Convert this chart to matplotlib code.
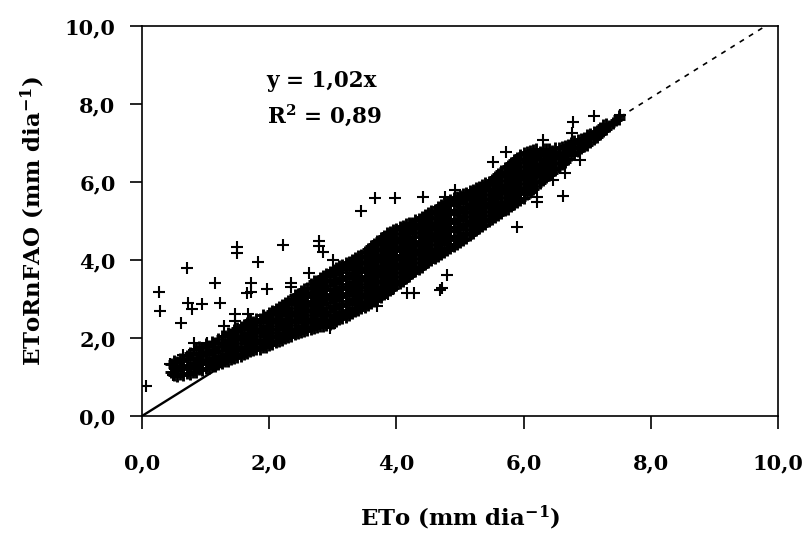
import matplotlib
matplotlib.use("Agg")
import matplotlib.pyplot as plt

# ---------------- data ----------------
# dense cloud, written as columns: (ETo, [ETo RnFAO values at that ETo])
band_low = [
    (0.45, [1.12, 1.33]), (0.50, [1.06, 1.25, 1.40]), (0.55, [1.02, 1.18, 1.38]),
    (0.60, [1.08, 1.28, 1.47]), (0.65, [1.04, 1.20, 1.42]), (0.70, [1.10, 1.32, 1.55]),
    (0.75, [1.08, 1.24, 1.46, 1.62]), (0.80, [1.14, 1.36, 1.58]),
    (0.85, [1.12, 1.28, 1.50, 1.72]), (0.90, [1.20, 1.40, 1.62, 1.78]),
    (0.95, [1.18, 1.34, 1.55, 1.75]), (1.00, [1.24, 1.45, 1.66, 1.84]),
    (1.05, [1.22, 1.38, 1.58, 1.80]), (1.10, [1.30, 1.50, 1.70, 1.90]),
    (1.15, [1.28, 1.44, 1.64, 1.86]), (1.20, [1.33, 1.54, 1.76, 1.98]),
    (1.25, [1.35, 1.48, 1.68, 1.90, 2.04]), (1.30, [1.40, 1.60, 1.82, 2.06]),
    (1.35, [1.42, 1.55, 1.74, 1.95, 2.12]), (1.40, [1.46, 1.66, 1.88, 2.10]),
    (1.45, [1.48, 1.60, 1.80, 2.02, 2.20]), (1.50, [1.52, 1.72, 1.94, 2.15, 2.25]),
    (1.55, [1.55, 1.66, 1.86, 2.08, 2.28]), (1.60, [1.60, 1.78, 2.00, 2.22, 2.34]),
    (1.65, [1.62, 1.72, 1.92, 2.14, 2.38]), (1.70, [1.66, 1.85, 2.06, 2.28, 2.45]),
    (1.75, [1.68, 1.78, 1.98, 2.20, 2.42]), (1.80, [1.71, 1.90, 2.12, 2.34, 2.50]),
    (1.85, [1.73, 1.84, 2.04, 2.26, 2.48]), (1.90, [1.76, 1.96, 2.18, 2.40, 2.58]),
    (1.95, [1.78, 1.90, 2.10, 2.32, 2.54]),
]
band_mid = [
    (2.00, [1.81, 2.02, 2.24, 2.46, 2.65]), (2.05, [1.84, 1.96, 2.16, 2.38, 2.60, 2.70]),
    (2.10, [1.89, 2.08, 2.30, 2.52, 2.74]), (2.15, [1.92, 2.02, 2.22, 2.44, 2.66, 2.80]),
    (2.20, [1.96, 2.14, 2.36, 2.58, 2.84]), (2.25, [1.99, 2.08, 2.28, 2.50, 2.72, 2.90]),
    (2.30, [2.03, 2.20, 2.42, 2.64, 2.86, 2.95]), (2.35, [2.06, 2.14, 2.34, 2.56, 2.78, 3.00]),
    (2.40, [2.10, 2.26, 2.48, 2.70, 2.92, 3.10]), (2.45, [2.12, 2.20, 2.40, 2.62, 2.84, 3.06, 3.14]),
    (2.50, [2.15, 2.32, 2.54, 2.76, 2.98, 3.20]), (2.55, [2.18, 2.26, 2.46, 2.68, 2.90, 3.12, 3.25]),
    (2.60, [2.20, 2.38, 2.60, 2.82, 3.04, 3.28]), (2.65, [2.22, 2.32, 2.52, 2.74, 2.96, 3.18, 3.38]),
    (2.70, [2.25, 2.44, 2.66, 2.88, 3.10, 3.32, 3.45]), (2.75, [2.28, 2.38, 2.58, 2.80, 3.02, 3.24, 3.46]),
    (2.80, [2.30, 2.50, 2.72, 2.94, 3.16, 3.38, 3.55]),
    (2.85, [2.32, 2.44, 2.64, 2.86, 3.08, 3.30, 3.52, 3.60]),
    (2.90, [2.34, 2.56, 2.78, 3.00, 3.22, 3.44, 3.65]),
    (2.95, [2.36, 2.48, 2.70, 2.92, 3.14, 3.36, 3.58, 3.70]),
    (3.00, [2.39, 2.60, 2.82, 3.04, 3.26, 3.48, 3.75]),
    (3.05, [2.43, 2.54, 2.76, 2.98, 3.20, 3.42, 3.64, 3.80]),
    (3.10, [2.48, 2.66, 2.88, 3.10, 3.32, 3.54, 3.76, 3.85]),
    (3.15, [2.51, 2.60, 2.82, 3.04, 3.26, 3.48, 3.70, 3.88]),
    (3.20, [2.55, 2.72, 2.94, 3.16, 3.38, 3.60, 3.82, 3.92]),
    (3.25, [2.59, 2.66, 2.88, 3.10, 3.32, 3.54, 3.76, 3.96]),
    (3.30, [2.63, 2.78, 3.00, 3.22, 3.44, 3.66, 3.88, 4.00]),
    (3.35, [2.68, 2.74, 2.94, 3.16, 3.38, 3.60, 3.82, 4.04]),
    (3.40, [2.72, 2.86, 3.08, 3.30, 3.52, 3.74, 3.96, 4.10]),
    (3.45, [2.76, 2.82, 3.02, 3.24, 3.46, 3.68, 3.90, 4.12]),
    (3.50, [2.80, 2.94, 3.16, 3.38, 3.60, 3.82, 4.04, 4.20]),
    (3.55, [2.85, 2.90, 3.10, 3.32, 3.54, 3.76, 3.98, 4.20, 4.28]),
    (3.60, [2.90, 3.02, 3.24, 3.46, 3.68, 3.90, 4.12, 4.35]),
    (3.65, [2.95, 3.00, 3.18, 3.40, 3.62, 3.84, 4.06, 4.28, 4.42]),
    (3.70, [3.00, 3.12, 3.34, 3.56, 3.78, 4.00, 4.22, 4.44, 4.50]),
    (3.75, [3.06, 3.10, 3.28, 3.50, 3.72, 3.94, 4.16, 4.38, 4.56]),
    (3.80, [3.12, 3.22, 3.44, 3.66, 3.88, 4.10, 4.32, 4.54, 4.62]),
    (3.85, [3.18, 3.38, 3.60, 3.82, 4.04, 4.26, 4.48, 4.68]),
    (3.90, [3.23, 3.32, 3.54, 3.76, 3.98, 4.20, 4.42, 4.64, 4.72]),
    (3.95, [3.29, 3.48, 3.70, 3.92, 4.14, 4.36, 4.58, 4.76]),
    (4.00, [3.35, 3.44, 3.66, 3.88, 4.10, 4.32, 4.54, 4.80]),
    (4.05, [3.41, 3.60, 3.82, 4.04, 4.26, 4.48, 4.70, 4.84]),
    (4.10, [3.47, 3.56, 3.78, 4.00, 4.22, 4.44, 4.66, 4.88]),
    (4.15, [3.54, 3.72, 3.94, 4.16, 4.38, 4.60, 4.82, 4.92]),
    (4.20, [3.60, 3.68, 3.90, 4.12, 4.34, 4.56, 4.78, 4.95]),
    (4.25, [3.66, 3.84, 4.06, 4.28, 4.50, 4.72, 4.96]),
    (4.30, [3.72, 3.80, 4.02, 4.24, 4.46, 4.68, 4.90, 5.02]),
    (4.35, [3.78, 3.96, 4.18, 4.40, 4.62, 4.84, 5.06]),
    (4.40, [3.83, 3.92, 4.14, 4.36, 4.58, 4.80, 5.02, 5.10]),
    (4.45, [3.89, 4.08, 4.30, 4.52, 4.74, 4.96, 5.15]),
    (4.50, [3.95, 4.04, 4.26, 4.48, 4.70, 4.92, 5.14, 5.20]),
    (4.55, [4.00, 4.20, 4.42, 4.64, 4.86, 5.08, 5.25]),
    (4.60, [4.05, 4.16, 4.38, 4.60, 4.82, 5.04, 5.28]),
    (4.65, [4.10, 4.32, 4.54, 4.76, 4.98, 5.20, 5.36]),
    (4.70, [4.15, 4.28, 4.50, 4.72, 4.94, 5.16, 5.40]),
    (4.75, [4.20, 4.44, 4.66, 4.88, 5.10, 5.32, 5.46]),
    (4.80, [4.25, 4.40, 4.62, 4.84, 5.06, 5.28, 5.50]),
    (4.85, [4.30, 4.56, 4.78, 5.00, 5.22, 5.44, 5.54]),
    (4.90, [4.35, 4.52, 4.74, 4.96, 5.18, 5.40, 5.58]),
    (4.95, [4.40, 4.62, 4.84, 5.06, 5.28, 5.50, 5.62]),
]
band_high = [
    (5.00, [4.45, 4.58, 4.80, 5.02, 5.24, 5.46, 5.65]),
    (5.05, [4.51, 4.70, 4.92, 5.14, 5.36, 5.58, 5.68]),
    (5.10, [4.57, 4.66, 4.88, 5.10, 5.32, 5.54, 5.72]),
    (5.15, [4.63, 4.80, 5.02, 5.24, 5.46, 5.68, 5.76]),
    (5.20, [4.70, 4.76, 4.98, 5.20, 5.42, 5.64, 5.80]),
    (5.25, [4.76, 4.92, 5.14, 5.36, 5.58, 5.84]),
    (5.30, [4.82, 4.88, 5.10, 5.32, 5.54, 5.76, 5.88]),
    (5.35, [4.87, 5.04, 5.26, 5.48, 5.70, 5.92]),
    (5.40, [4.93, 5.00, 5.22, 5.44, 5.66, 5.88, 5.97]),
    (5.45, [4.99, 5.16, 5.38, 5.60, 5.82, 6.01]),
    (5.50, [5.05, 5.12, 5.34, 5.56, 5.78, 6.04]),
    (5.55, [5.10, 5.28, 5.50, 5.72, 5.94, 6.12]),
    (5.60, [5.15, 5.24, 5.46, 5.68, 5.90, 6.12, 6.20]),
    (5.65, [5.21, 5.40, 5.62, 5.84, 6.06, 6.28]),
    (5.70, [5.27, 5.36, 5.58, 5.80, 6.02, 6.24, 6.35]),
    (5.75, [5.32, 5.52, 5.74, 5.96, 6.18, 6.42]),
    (5.80, [5.38, 5.48, 5.70, 5.92, 6.14, 6.36, 6.50]),
    (5.85, [5.44, 5.64, 5.86, 6.08, 6.30, 6.56]),
    (5.90, [5.50, 5.60, 5.82, 6.04, 6.26, 6.48, 6.62]),
    (5.95, [5.55, 5.76, 5.98, 6.20, 6.42, 6.68]),
    (6.00, [5.60, 5.72, 5.94, 6.16, 6.38, 6.60, 6.75]),
    (6.05, [5.68, 5.88, 6.10, 6.32, 6.54, 6.78]),
    (6.10, [5.75, 5.84, 6.06, 6.28, 6.50, 6.72, 6.80]),
    (6.15, [5.82, 6.00, 6.22, 6.44, 6.66, 6.83]),
    (6.20, [5.90, 6.18, 6.40, 6.62, 6.85]),
    (6.25, [5.97, 6.12, 6.34, 6.56, 6.78]),
    (6.30, [6.05, 6.28, 6.50, 6.72, 6.85]),
    (6.35, [6.12, 6.24, 6.46, 6.68, 6.84]),
    (6.40, [6.18, 6.40, 6.62, 6.85]),
    (6.45, [6.24, 6.36, 6.58, 6.80]),
    (6.50, [6.30, 6.52, 6.74, 6.86]),
    (6.55, [6.38, 6.48, 6.70, 6.88]),
    (6.60, [6.45, 6.64, 6.90]), (6.65, [6.52, 6.72, 6.92]), (6.70, [6.60, 6.80, 6.95]),
    (6.75, [6.68, 6.86, 7.00]), (6.80, [6.75, 6.92, 7.05]), (6.85, [6.80, 7.08]),
    (6.90, [6.86, 7.00, 7.10]), (6.95, [6.92, 7.14]), (7.00, [6.96, 7.12, 7.20]),
    (7.05, [7.02, 7.22]), (7.10, [7.10, 7.28]), (7.15, [7.15, 7.32]), (7.20, [7.22, 7.38]),
    (7.25, [7.30, 7.45]), (7.30, [7.36, 7.50]), (7.35, [7.44]), (7.40, [7.52]),
    (7.45, [7.58]), (7.50, [7.62, 7.68]),
]
# scattered points outside the dense cloud: (ETo, ETo RnFAO)
outliers = [
    (0.06, 0.78), (0.27, 3.19), (0.29, 2.69), (0.70, 3.79), (0.62, 2.39), (0.73, 2.91),
    (0.78, 2.74), (0.94, 2.88), (1.15, 3.42), (1.23, 2.91), (1.49, 4.34), (1.49, 4.19),
    (1.83, 3.94), (1.65, 3.15), (1.71, 3.42), (1.72, 3.17), (1.96, 3.25), (2.22, 4.38),
    (2.78, 4.50), (2.78, 4.36), (2.84, 4.21), (2.35, 3.42), (2.35, 3.30), (1.46, 2.61),
    (1.46, 2.44), (1.66, 2.61), (1.29, 2.31), (0.44, 1.33), (0.49, 1.05), (0.81, 1.86),
    (0.81, 1.69), (1.02, 1.86), (0.65, 1.56), (2.62, 3.66), (3.01, 4.00), (2.96, 2.25),
    (3.44, 5.26), (3.66, 5.58), (3.98, 5.58), (4.42, 5.62), (4.76, 5.62), (4.92, 5.79),
    (3.69, 2.82), (3.87, 3.12), (4.17, 3.15), (4.27, 3.15), (4.79, 3.62), (4.71, 3.29),
    (4.69, 3.23), (5.52, 6.52), (5.73, 6.78), (5.89, 4.85), (6.21, 5.62), (6.21, 5.49),
    (6.62, 5.64), (6.47, 6.05), (6.65, 6.22), (6.89, 6.56), (6.31, 7.08), (6.76, 7.25),
    (6.78, 7.55), (7.10, 7.68), (7.52, 7.72),
]

slope = 1.02
r2_text = "0,89"
ticks = [0, 2, 4, 6, 8, 10]
tick_labels = ["0,0", "2,0", "4,0", "6,0", "8,0", "10,0"]
xlabel = "ETo (mm dia$^{-1}$)"
ylabel = "EToRnFAO (mm dia$^{-1}$)"

# ---------------- figure ----------------
plt.rcParams["font.family"] = ["DejaVu Serif"]
plt.rcParams["font.weight"] = "bold"
plt.rcParams["mathtext.fontset"] = "dejavuserif"
plt.rcParams["mathtext.default"] = "bf"

band_x, band_y = [], []
for col in (band_low, band_mid, band_high):
    for x, ys in col:
        for y in ys:
            band_x.append(x)
            band_y.append(y)
out_x = [p[0] for p in outliers]
out_y = [p[1] for p in outliers]

fig = plt.figure(figsize=(8.09, 5.34), dpi=100)
ax = fig.add_axes([142 / 809, 1 - 416 / 534, 636 / 809, 390 / 534])

ax.plot(band_x, band_y, linestyle="none", marker="+", markersize=8.8,
        markeredgewidth=2.1, color="black", zorder=2)
ax.plot(out_x, out_y, linestyle="none", marker="+", markersize=8.8,
        markeredgewidth=1.5, color="black", zorder=2)

x_max = max(band_x + out_x)
ax.plot([0, x_max], [0, slope * x_max], color="black", lw=1.7, zorder=3)
ax.plot([x_max, 10], [slope * x_max, slope * 10], color="black", lw=1.2,
        linestyle=(0, (3.0, 3.5)), zorder=3)

ax.set_xlim(0, 10)
ax.set_ylim(0, 10)
ax.set_xticks(ticks)
ax.set_xticklabels(tick_labels)
ax.set_yticks(ticks)
ax.set_yticklabels(tick_labels)
ax.tick_params(axis="both", direction="out", length=9, width=1.2,
               labelsize=15, colors="black")
ax.tick_params(axis="x", pad=18)
ax.tick_params(axis="y", pad=10)
for sp in ax.spines.values():
    sp.set_linewidth(1.2)
    sp.set_color("black")

ax.set_xlabel(xlabel, fontsize=16.5, fontweight="bold")
ax.xaxis.set_label_coords(0.5, -0.226)
ax.set_ylabel(ylabel, fontsize=16.5, fontweight="bold")
ax.yaxis.set_label_coords(-0.15, 0.5)

ax.text(1.96, 8.44, "y = %sx" % ("%.2f" % slope).replace(".", ","),
        fontsize=15.5, fontweight="bold", va="baseline", ha="left")
ax.text(1.96, 7.50, "R$^2$ = " + r2_text,
        fontsize=15.5, fontweight="bold", va="baseline", ha="left")

fig.savefig("out.png", dpi=100, facecolor="white")
